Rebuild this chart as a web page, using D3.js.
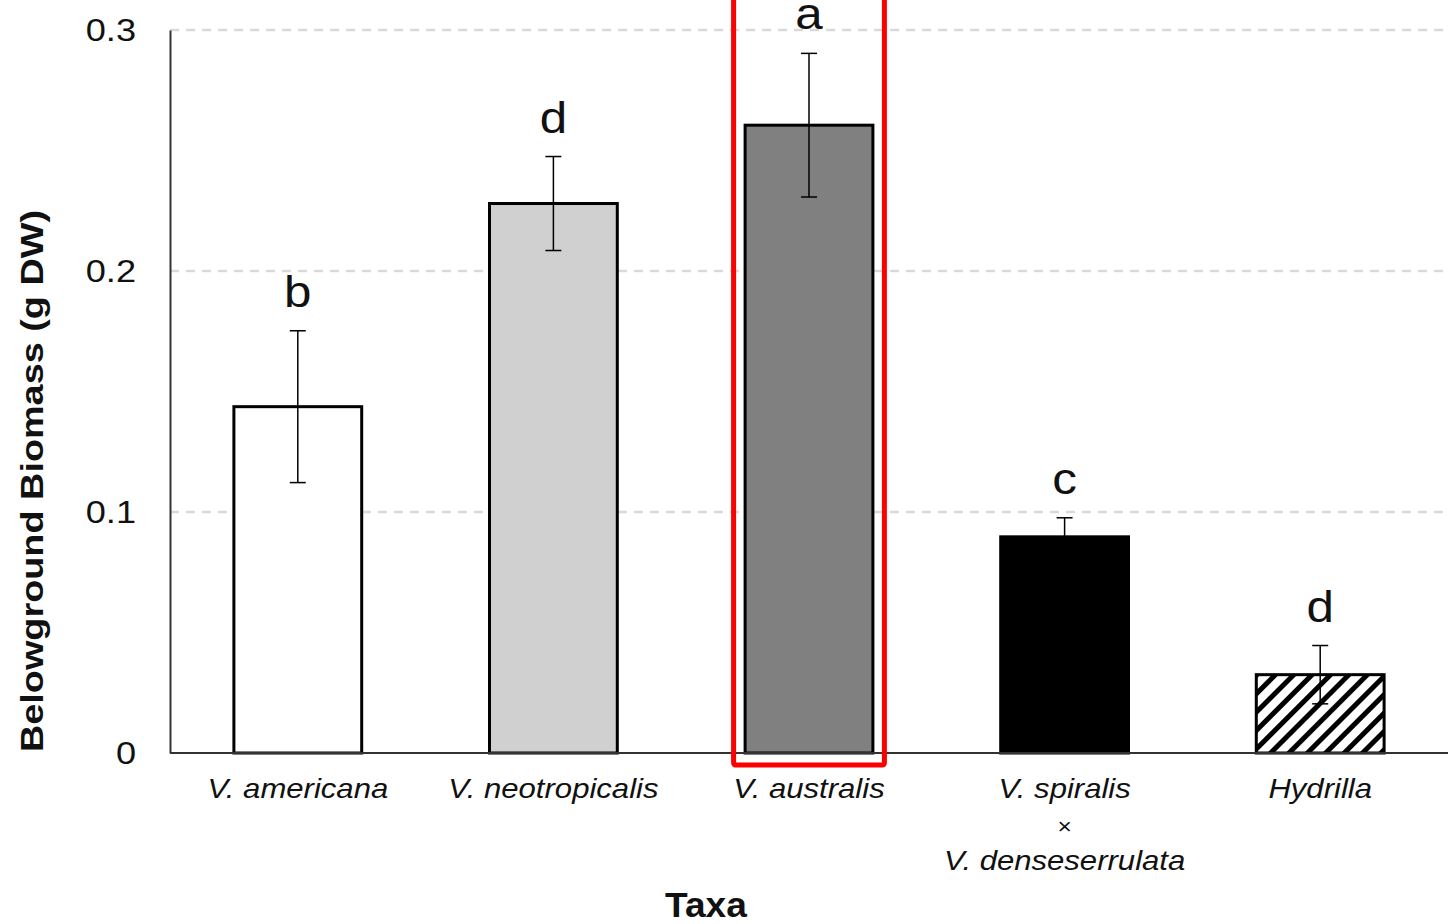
<!DOCTYPE html>
<html>
<head>
<meta charset="utf-8">
<script src="https://cdn.jsdelivr.net/npm/d3@7"></script>
<style>
  body { margin: 0; background: #fff; }
  text { font-family: "Liberation Sans", Arial, sans-serif; }
</style>
</head>
<body>
<div id="chart"></div>
<script>
// data
const taxa = ["V. americana", "V. neotropicalis", "V. australis", "V. spiralis × V. denseserrulata", "Hydrilla"];
const taxaLines = [["V. americana"], ["V. neotropicalis"], ["V. australis"], ["V. spiralis", "×", "V. denseserrulata"], ["Hydrilla"]];
const biomass = [0.1437, 0.228, 0.2605, 0.0897, 0.0325];
const stdErr = [0.0315, 0.0195, 0.0298, 0.0079, 0.0121];
const letters = ["b", "d", "a", "c", "d"];
const fills = ["#ffffff", "#d0d0d0", "#808080", "#000000", "url(#hatch)"];
const yTicks = [0, 0.1, 0.2, 0.3];
const highlight = "V. australis";

const W = 1448, H = 924;
const margin = { top: 30, right: 0, bottom: 171, left: 170 };
const width = W - margin.left - margin.right;
const height = H - margin.top - margin.bottom;

// the figure's text is a bit wider than the font, stretch it
function stretch(sel, k) {
    sel.each(function() {
        const len = this.getComputedTextLength();
        d3.select(this).attr("textLength", len * k).attr("lengthAdjust", "spacingAndGlyphs");
    });
}

const svgRoot = d3.select("#chart").append("svg")
    .attr("width", W)
    .attr("height", H);

// hatch pattern for Hydrilla
const pat = svgRoot.append("defs").append("pattern")
    .attr("id", "hatch")
    .attr("patternUnits", "userSpaceOnUse")
    .attr("width", 13)
    .attr("height", 13)
    .attr("patternTransform", "rotate(45)");
pat.append("rect").attr("width", 13).attr("height", 13).attr("fill", "#fff");
pat.append("rect").attr("x", 0).attr("width", 5).attr("height", 13).attr("fill", "#000");

const svg = svgRoot.append("g")
    .attr("transform", `translate(${margin.left},${margin.top})`);

const x = d3.scaleBand().domain(taxa).range([0, width]).paddingInner(0.5).paddingOuter(0.25);
const y = d3.scaleLinear().domain([0, 0.3]).range([height, 0]);

// gridlines
svg.selectAll(".grid").data(yTicks.filter(d => d > 0)).join("line")
    .attr("x1", 0).attr("x2", width)
    .attr("y1", d => y(d)).attr("y2", d => y(d))
    .attr("stroke", "#d9d9d9")
    .attr("stroke-width", 2.5)
    .attr("stroke-dasharray", "9,7");

// y axis
const yAxis = svg.append("g")
    .call(d3.axisLeft(y).tickValues(yTicks).tickFormat(d => d === 0 ? "0" : d3.format(".1f")(d)).tickSize(0).tickPadding(34));
yAxis.select(".domain").attr("stroke", "#333").attr("stroke-width", 2);
yAxis.selectAll("text")
    .style("font-size", "32px")
    .attr("fill", "#111")
    .attr("font-family", "Liberation Sans, Arial, sans-serif");
stretch(yAxis.selectAll("text"), 1.13);

// bars
svg.selectAll(".bar").data(taxa).join("rect")
    .attr("x", d => x(d))
    .attr("y", (d, i) => y(biomass[i]))
    .attr("width", x.bandwidth())
    .attr("height", (d, i) => height - y(biomass[i]))
    .attr("fill", (d, i) => fills[i])
    .attr("stroke", "#000")
    .attr("stroke-width", 3);

// x axis line
svg.append("line")
    .attr("x1", 0).attr("x2", width)
    .attr("y1", height).attr("y2", height)
    .attr("stroke", "#333").attr("stroke-width", 2);

// error bars
const eb = svg.selectAll(".err").data(taxa).join("g")
    .attr("transform", d => `translate(${x(d) + x.bandwidth() / 2},0)`);
eb.append("line")
    .attr("y1", (d, i) => y(biomass[i] + stdErr[i]))
    .attr("y2", (d, i) => y(biomass[i] - stdErr[i]))
    .attr("stroke", "#000").attr("stroke-width", 1.5);
eb.append("line")
    .attr("x1", -8).attr("x2", 8)
    .attr("y1", (d, i) => y(biomass[i] + stdErr[i]))
    .attr("y2", (d, i) => y(biomass[i] + stdErr[i]))
    .attr("stroke", "#000").attr("stroke-width", 1.5);
eb.append("line")
    .attr("x1", -8).attr("x2", 8)
    .attr("y1", (d, i) => y(biomass[i] - stdErr[i]))
    .attr("y2", (d, i) => y(biomass[i] - stdErr[i]))
    .attr("stroke", "#000").attr("stroke-width", 1.5);

// significance letters (kept inside the top of the page)
const lett = eb.append("text")
    .attr("y", (d, i) => Math.max(y(biomass[i] + stdErr[i]) - 24, -margin.top + 23))
    .attr("text-anchor", "middle")
    .style("font-size", "44px")
    .attr("fill", "#111")
    .text((d, i) => letters[i]);
stretch(lett, 1.12);

// category labels, one text per line
taxa.forEach((d, i) => {
    taxaLines[i].forEach((t, j) => {
        svg.append("text")
            .attr("class", "catline")
            .attr("transform", `translate(${x(d) + x.bandwidth() / 2},${height + 45 + j * 36})`)
            .attr("text-anchor", "middle")
            .style("font-size", t === "×" ? "22px" : "28px")
            .style("font-style", t === "×" ? "normal" : "italic")
            .attr("fill", "#111")
            .text(t);
    });
});
stretch(svg.selectAll(".catline"), 1.11);

// highlight box
const pad = x.bandwidth() * 0.09;
svg.append("rect")
    .attr("x", x(highlight) - pad)
    .attr("y", -40)
    .attr("width", x.bandwidth() + 2 * pad)
    .attr("height", height + 52)
    .attr("rx", 2)
    .attr("fill", "none")
    .attr("stroke", "#ff0000")
    .attr("stroke-width", 5);

// axis titles
const xt = svg.append("text")
    .attr("x", 706 - margin.left)
    .attr("y", height + 164)
    .attr("text-anchor", "middle")
    .style("font-size", "35px")
    .style("font-weight", "bold")
    .attr("fill", "#111")
    .text("Taxa");
stretch(xt, 1.06);

svg.append("text")
    .attr("transform", "rotate(-90)")
    .attr("x", -451)
    .attr("y", -127)
    .attr("text-anchor", "middle")
    .style("font-size", "31px")
    .style("font-weight", "bold")
    .attr("fill", "#111")
    .attr("textLength", 542)
    .attr("lengthAdjust", "spacingAndGlyphs")
    .text("Belowground Biomass (g DW)");
</script>
</body>
</html>
